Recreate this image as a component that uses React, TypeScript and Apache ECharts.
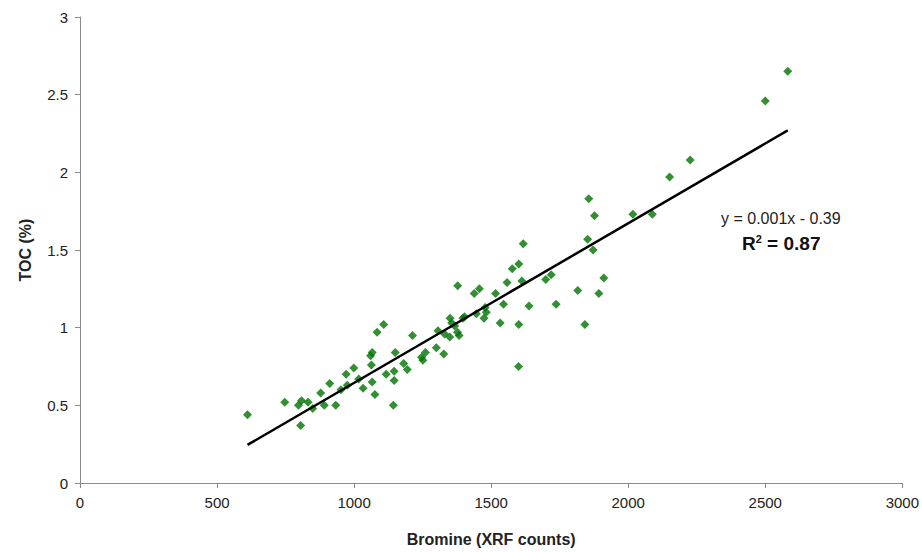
import React, { useEffect, useRef } from "react";
import * as echarts from "echarts";

const bromine: number[] = [
  611, 747, 797, 808, 805, 832, 849, 878, 891, 911, 933, 952, 971, 975, 999, 1017, 1033, 1066, 1076, 1063,
  1060, 1066, 1084, 1108, 1117, 1146, 1146, 1143, 1150, 1181, 1194, 1213, 1246, 1251, 1260, 1300, 1327, 1306,
  1330, 1349, 1350, 1356, 1367, 1377, 1383, 1378, 1397, 1403, 1438, 1457, 1446, 1478, 1482, 1474, 1516, 1545,
  1533, 1558, 1577, 1601, 1617, 1612, 1638, 1601, 1600, 1699, 1719, 1737, 1816, 1842, 1852, 1872, 1893, 1911,
  1856, 1877, 2017, 2088, 2151, 2226, 2500, 2582,
];
const toc: number[] = [
  0.44, 0.52, 0.5, 0.53, 0.37, 0.52, 0.48, 0.58, 0.5, 0.64, 0.5, 0.6, 0.7, 0.63, 0.74, 0.67, 0.61, 0.65, 0.57, 0.76,
  0.82, 0.84, 0.97, 1.02, 0.7, 0.72, 0.66, 0.5, 0.84, 0.77, 0.73, 0.95, 0.81, 0.79, 0.84, 0.87, 0.83, 0.98,
  0.96, 0.94, 1.06, 1.03, 1.01, 0.97, 0.95, 1.27, 1.06, 1.07, 1.22, 1.25, 1.09, 1.13, 1.1, 1.06, 1.22, 1.15,
  1.03, 1.29, 1.38, 1.41, 1.54, 1.3, 1.14, 1.02, 0.75, 1.31, 1.34, 1.15, 1.24, 1.02, 1.57, 1.5, 1.22, 1.32,
  1.83, 1.72, 1.73, 1.73, 1.97, 2.08, 2.46, 2.65,
];
const trendX: number[] = [611, 2582];
const trendY: number[] = [0.245, 2.27];
const equationText = "y = 0.001x - 0.39";
const r2Label = "R";
const r2Value = " = 0.87";

const FONT = 'Arial, "Liberation Sans", sans-serif';

export default function App() {
  const ref = useRef<HTMLDivElement>(null);
  useEffect(() => {
    if (!ref.current) return;
    const chart = echarts.init(ref.current, null, { renderer: "svg" });
    const points = bromine.map((x, i) => [x, toc[i]]);
    const trend = trendX.map((x, i) => [x, trendY[i]]);
    chart.setOption({
      animation: false,
      backgroundColor: "#ffffff",
      textStyle: { fontFamily: FONT },
      grid: { left: 80, right: 19, top: 17, bottom: 67, containLabel: false },
      xAxis: {
        type: "value",
        min: 0,
        max: 3000,
        interval: 500,
        name: "Bromine (XRF counts)",
        nameLocation: "middle",
        nameGap: 48,
        nameTextStyle: { fontFamily: FONT, fontSize: 16, fontWeight: "bold", color: "#222" },
        axisLine: { show: true, lineStyle: { color: "#8a8a8a", width: 1 } },
        axisTick: { show: true, length: 5, lineStyle: { color: "#8a8a8a" } },
        axisLabel: {
          fontFamily: FONT,
          fontSize: 15,
          color: "#222",
          margin: 12,
          formatter: (v: number) => String(v),
        },
        splitLine: { show: false },
      },
      yAxis: {
        type: "value",
        min: 0,
        max: 3,
        interval: 0.5,
        name: "TOC (%)",
        nameLocation: "middle",
        nameRotate: 90,
        nameGap: 47,
        nameTextStyle: { fontFamily: FONT, fontSize: 16, fontWeight: "bold", color: "#222" },
        axisLine: { show: true, lineStyle: { color: "#8a8a8a", width: 1 } },
        axisTick: { show: true, length: 5, lineStyle: { color: "#8a8a8a" } },
        axisLabel: {
          fontFamily: FONT,
          fontSize: 15,
          color: "#222",
          margin: 12,
          formatter: (v: number) => String(v),
        },
        splitLine: { show: false },
      },
      series: [
        {
          type: "scatter",
          data: points,
          symbol: "diamond",
          symbolSize: 9,
          itemStyle: { color: "#007300" },
          z: 2,
        },
        {
          type: "line",
          data: trend,
          symbol: "none",
          lineStyle: { color: "#000000", width: 2.5 },
          z: 3,
        },
      ],
      graphic: [
        {
          type: "text",
          left: 721,
          top: 210,
          style: {
            text: equationText,
            fontFamily: FONT,
            fontSize: 16,
            fill: "#222",
          },
        },
        {
          type: "text",
          left: 742,
          top: 233,
          style: {
            text: `{b|${r2Label}}{s|2}{b|${r2Value}}`,
            fontFamily: FONT,
            rich: {
              b: { fontFamily: FONT, fontSize: 19, fontWeight: "bold", fill: "#111", verticalAlign: "bottom" },
              s: { fontFamily: FONT, fontSize: 11, fontWeight: "bold", fill: "#111", verticalAlign: "top", padding: [0, 0, 9, 0] },
            },
          },
        },
      ],
    });
    return () => chart.dispose();
  }, []);
  return (
    <div
      ref={ref}
      style={{ position: "fixed", left: 0, top: 0, width: 922, height: 552, background: "#fff" }}
    />
  );
}
